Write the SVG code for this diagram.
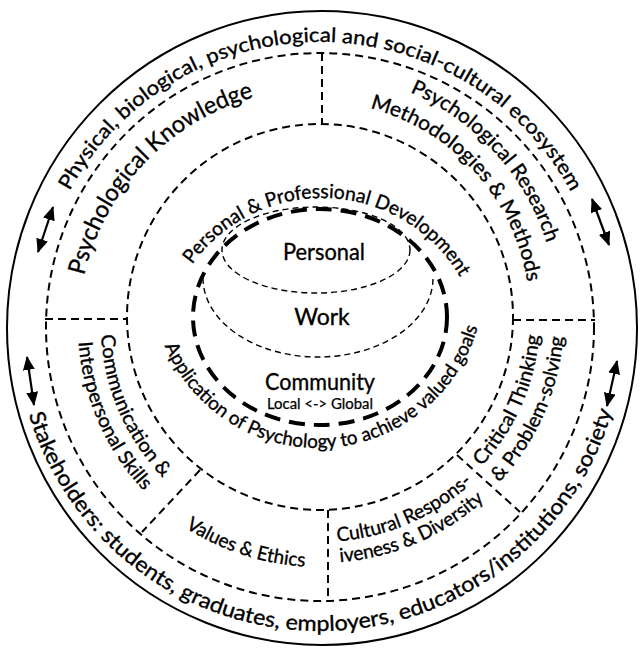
<svg xmlns="http://www.w3.org/2000/svg" xmlns:xlink="http://www.w3.org/1999/xlink" width="640" height="650" viewBox="0 0 640 650">
<style>
  text { font-family: Lato, "Liberation Sans", "DejaVu Sans", sans-serif; fill: #000; stroke: #000; stroke-width: 0.35; }
  .solid { fill: none; stroke: #000; stroke-width: 2; }
  .ring { fill: none; stroke: #000; stroke-width: 2; stroke-dasharray: 8 5; }
  .thin { fill: none; stroke: #000; stroke-width: 1.4; stroke-dasharray: 6 4; }
  .thick { fill: none; stroke: #000; stroke-width: 4; stroke-dasharray: 16 9; }
  .div { fill: none; stroke: #000; stroke-width: 2; stroke-dasharray: 8 5; }
  .arrow { fill: none; stroke: #000; stroke-width: 2.2; marker-start: url(#head); marker-end: url(#head); }
  .t19 { font-size: 19.5px; }
  .t20 { font-size: 20.5px; }
  .big { font-size: 22px; }
</style>
<defs>
  <marker id="head" viewBox="0 0 14 12" refX="13" refY="6" markerWidth="14" markerHeight="12" markerUnits="userSpaceOnUse" orient="auto-start-reverse">
    <path d="M0,0 L14,6 L0,12 z" fill="#000"/>
  </marker>
  <path id="pTop" d="M69.5,191.0 A285,285 0 0 1 571.2,192.3"/>
  <path id="pBottom" d="M28.8,414.4 A304,304 0 0 0 612.2,410.8"/>
  <path id="pKnow" d="M84.2,275.6 A242,242 0 0 1 252.1,97.7"/>
  <path id="pRes1" d="M409.9,92.3 A243,243 0 0 1 546.7,242.9"/>
  <path id="pRes2" d="M369.9,108.1 A215,215 0 0 1 527.3,282.0"/>
  <path id="pCom1" d="M101.2,334.9 A219,219 0 0 0 163.3,477.9"/>
  <path id="pCom2" d="M78.6,341.9 A242,242 0 0 0 143.9,491.0"/>
  <path id="pVal" d="M185.3,527.6 A250,250 0 0 0 305.2,566.6"/>
  <path id="pCul1" d="M337.3,541.3 A225,225 0 0 0 472.0,482.9"/>
  <path id="pCul2" d="M340.1,562.2 A246,246 0 0 0 484.3,500.1"/>
  <path id="pCri1" d="M481.4,466.5 A220,220 0 0 0 539.3,335.0"/>
  <path id="pCri2" d="M499.3,482.5 A244,244 0 0 0 563.2,337.0"/>
  <path id="pDev" d="M192.1,264.6 A160,160 0 0 1 460.0,277.0"/>
  <path id="pApp" d="M164.7,345.8 A166,166 0 0 0 477.7,327.2"/>
</defs>

<g id="rings">
  <ellipse class="solid" cx="322" cy="328" rx="315" ry="317"/>
  <circle class="ring" cx="320" cy="327" r="274"/>
  <circle class="ring" cx="320" cy="317" r="193"/>
</g>

<g id="dividers">
  <line class="div" x1="322" y1="53" x2="322" y2="125"/>
  <line class="div" x1="45" y1="319" x2="127" y2="319"/>
  <line class="div" x1="513" y1="320" x2="595" y2="320"/>
  <line class="div" x1="328" y1="510" x2="328" y2="600"/>
  <line class="div" x1="200" y1="470" x2="142" y2="532"/>
  <line class="div" x1="457" y1="455" x2="520" y2="512"/>
</g>

<g id="connectors">
  <line class="arrow" x1="38" y1="252" x2="53" y2="207"/>
  <line class="arrow" x1="27" y1="357" x2="34" y2="405"/>
  <line class="arrow" x1="592" y1="199" x2="609" y2="245"/>
  <line class="arrow" x1="617" y1="361" x2="607" y2="406"/>
</g>

<g id="ecosystem">
  <text style="font-size:20px"><textPath xlink:href="#pTop" href="#pTop" textLength="613" lengthAdjust="spacingAndGlyphs">Physical, biological, psychological and social-cultural ecosystem</textPath></text>
</g>
<g id="stakeholders">
  <text style="font-size:21.5px"><textPath xlink:href="#pBottom" href="#pBottom" textLength="781" lengthAdjust="spacingAndGlyphs">Stakeholders: students, graduates, employers, educators/institutions, society</textPath></text>
</g>
<g id="knowledge">
  <text style="font-size:24px"><textPath xlink:href="#pKnow" href="#pKnow" textLength="258" lengthAdjust="spacingAndGlyphs">Psychological Knowledge</textPath></text>
</g>
<g id="research">
  <text class="t20"><textPath xlink:href="#pRes1" href="#pRes1" textLength="210" lengthAdjust="spacingAndGlyphs">Psychological Research</textPath></text>
  <text class="t20"><textPath xlink:href="#pRes2" href="#pRes2" textLength="248" lengthAdjust="spacingAndGlyphs">Methodologies &amp; Methods</textPath></text>
</g>
<g id="communication">
  <text class="t19"><textPath xlink:href="#pCom1" href="#pCom1" textLength="159" lengthAdjust="spacingAndGlyphs">Communication &amp;</textPath></text>
  <text class="t19"><textPath xlink:href="#pCom2" href="#pCom2" textLength="166" lengthAdjust="spacingAndGlyphs">Interpersonal Skills</textPath></text>
</g>
<g id="values">
  <text class="t19"><textPath xlink:href="#pVal" href="#pVal" textLength="127" lengthAdjust="spacingAndGlyphs">Values &amp; Ethics</textPath></text>
</g>
<g id="cultural">
  <text class="t19"><textPath xlink:href="#pCul1" href="#pCul1" textLength="150" lengthAdjust="spacingAndGlyphs">Cultural Respons-</textPath></text>
  <text class="t19"><textPath xlink:href="#pCul2" href="#pCul2" textLength="160" lengthAdjust="spacingAndGlyphs">iveness &amp; Diversity</textPath></text>
</g>
<g id="critical">
  <text class="t19"><textPath xlink:href="#pCri1" href="#pCri1" textLength="146" lengthAdjust="spacingAndGlyphs">Critical Thinking</textPath></text>
  <text class="t19"><textPath xlink:href="#pCri2" href="#pCri2" textLength="162" lengthAdjust="spacingAndGlyphs">&amp; Problem-solving</textPath></text>
</g>
<g id="development">
  <text style="font-size:19.5px"><textPath xlink:href="#pDev" href="#pDev" textLength="318" lengthAdjust="spacingAndGlyphs">Personal &amp; Professional Development</textPath></text>
</g>
<g id="application">
  <text style="font-size:19px"><textPath xlink:href="#pApp" href="#pApp" textLength="410" lengthAdjust="spacingAndGlyphs">Application of Psychology to achieve valued goals</textPath></text>
</g>

<g id="core">
  <ellipse class="thick" cx="320" cy="317" rx="127" ry="108"/>
</g>
<g id="personal">
  <ellipse class="thin" cx="316" cy="250" rx="94" ry="43"/>
  <text class="big" x="324" y="260" text-anchor="middle" textLength="82" lengthAdjust="spacingAndGlyphs" style="font-size:23px">Personal</text>
</g>
<g id="work">
  <path class="thin" d="M203,278 A115,79 0 0 0 433,278"/>
  <text class="big" x="322" y="325" text-anchor="middle" style="font-size:23px">Work</text>
</g>
<g id="community">
  <text class="big" x="320" y="390" text-anchor="middle" textLength="110" lengthAdjust="spacingAndGlyphs" style="font-size:23px">Community</text>
  <text x="320" y="409" text-anchor="middle" textLength="106" lengthAdjust="spacingAndGlyphs" style="font-size:14.5px;stroke-width:0.25">Local &lt;-&gt; Global</text>
</g>
</svg>
